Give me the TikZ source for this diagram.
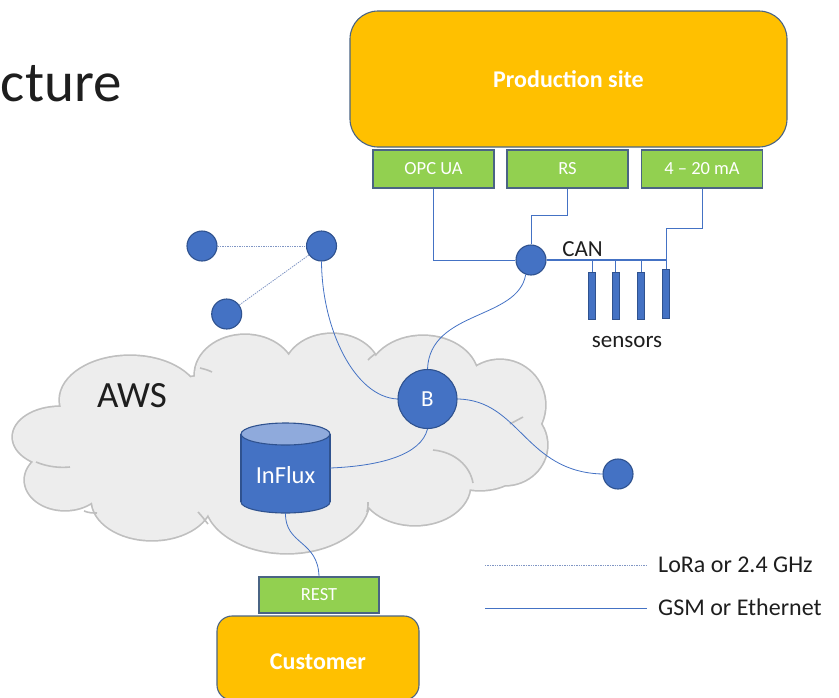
\documentclass[tikz,border=0pt]{standalone}
\usepackage{fontspec}
\setmainfont{Carlito}
\newcommand\fsz[1]{\fontsize{#1}{#1}\selectfont}
\definecolor{myorange}{HTML}{FFC000}
\definecolor{mygreen}{HTML}{92D050}
\definecolor{myblue}{HTML}{4472C4}
\definecolor{darkblue}{HTML}{2F528F}
\definecolor{boxborder}{HTML}{4A6484}
\definecolor{cloudfill}{HTML}{EDEDED}
\definecolor{cloudline}{HTML}{BFBFBF}
\definecolor{radiocol}{HTML}{8096C4}
\definecolor{topblue}{HTML}{8FAADC}
\definecolor{ink}{HTML}{1E1E1E}
\tikzset{
  orangebox/.style={rectangle, fill=myorange, draw=boxborder, line width=1.1pt, text=white, inner sep=0pt},
  greenbox/.style={rectangle, fill=mygreen, draw=boxborder, line width=1.1pt, text=white, inner sep=0pt, minimum width=121pt, minimum height=38pt, font=\fsz{18.5}},
  dotnode/.style={circle, fill=myblue, draw=darkblue, line width=1.1pt, minimum size=30pt, inner sep=0pt},
  sensorbar/.style={rectangle, fill=myblue, draw=darkblue, line width=0.6pt, minimum width=7pt, inner sep=0pt},
  wire/.style={draw=myblue, line width=0.8pt},
  radio/.style={draw=radiocol, line width=0.8pt, dash pattern=on 1.4pt off 1pt},
  lobe/.style={draw=cloudline, line width=3.4pt},
  lobefill/.style={fill=cloudfill},
  innerarc/.style={draw=cloudline, line width=1.6pt},
  plain/.style={text=ink, inner sep=0pt},
}
\begin{document}
\begin{tikzpicture}[x=1pt, y=-1pt]
\useasboundingbox (0,0) rectangle (839,697);
\clip (0,0) rectangle (839,697);

% title fragment
\node[plain, anchor=base west, font=\fsz{57}] (title) at (0.8,101) {cture};

% cloud
\def\cloudlobes{%
  (130,400) ellipse (70pt and 44pt)
  (245,375) ellipse (50pt and 40pt)
  (332,372) ellipse (48pt and 38pt)
  (423,378) ellipse (55pt and 42pt)
  (500,405) ellipse (45pt and 45pt)
  (505,445) ellipse (42pt and 40pt)
  (480,460) ellipse (45pt and 30pt)
  (415,485) ellipse (55pt and 40pt)
  (287,500) ellipse (82pt and 53pt)
  (152,500) ellipse (60pt and 40pt)
  (65,480) ellipse (40pt and 30pt)
  (60,437) ellipse (47pt and 30pt)
  (280,440) ellipse (200pt and 70pt)}
\path[lobe] \cloudlobes;
\path[lobefill] \cloudlobes (108,474) ellipse (14pt and 9pt);
% inner arcs of the cloud
\draw[innerarc] (36,462) .. controls (48,467) and (60,468) .. (70,467);
\draw[innerarc] (84,511) .. controls (89,513) and (93,513) .. (97,513);
\draw[innerarc] (208,524) .. controls (204,519) and (201,515) .. (198,512);
\draw[innerarc] (367,512) .. controls (368,509) and (368,506) .. (368,502);
\draw[innerarc] (433,450) .. controls (455,452) and (470,466) .. (473,483);
\draw[innerarc] (510,424) -- (523,417);
\draw[innerarc] (200,368) .. controls (204,369) and (208,370) .. (212,372);
\draw[innerarc] (375,354) .. controls (372,356) and (370,358) .. (368,360);
\node[plain, anchor=base west, font=\fsz{37}] (aws) at (97,407) {AWS};

% production site
\node[orangebox, rounded corners=28pt, minimum width=437pt, minimum height=136pt, font=\fsz{24}\bfseries] (prod) at (568.5,79) {Production site};
\node[greenbox] (opc) at (433.5,169) {OPC UA};
\node[greenbox] (rs) at (567.5,169) {RS};
\node[greenbox] (ma) at (702,169) {4 – 20 mA};

% hub and sensors
\node[dotnode] (hub) at (531,260) {};
\node[sensorbar, minimum height=47pt] (s1) at (592,295.5) {};
\node[sensorbar, minimum height=47pt] (s2) at (615.5,295.5) {};
\node[sensorbar, minimum height=47pt] (s3) at (641,295.5) {};
\node[sensorbar, minimum height=49pt] (s4) at (666,293.5) {};
\node[plain, anchor=base, font=\fsz{23}] (can) at (582.5,256) {CAN};
\node[plain, anchor=base, font=\fsz{23}] (sens) at (627,347) {sensors};

\draw[wire] (opc.south) |- (hub.west);
\draw[wire] (rs.south) -- (rs.south |- 0,215) -| (hub.north);
\draw[wire] (ma.south) -- (ma.south |- 0,228) -| (s4.north);
\draw[wire, line width=1.8pt] (hub.east) -- (hub.east -| s4.north);
\draw[wire] (s1.north) -- (s1.north |- hub.east);
\draw[wire] (s2.north) -- (s2.north |- hub.east);
\draw[wire] (s3.north) -- (s3.north |- hub.east);

% radio nodes
\node[dotnode] (c1) at (202,246) {};
\node[dotnode] (c2) at (321.5,246) {};
\node[dotnode] (c3) at (226.7,314) {};
\node[dotnode] (c4) at (618,474) {};
\draw[radio] (c1) -- (c2);
\draw[radio] (c3) -- (c2);

% broker
\node[dotnode, minimum size=59pt, text=white, font=\fsz{23}] (B) at (427.5,399) {B};

% InFlux cylinder
\filldraw[fill=myblue, draw=darkblue, line width=1.1pt] (285.5,502) ellipse (44.5pt and 11pt);
\fill[myblue] (241,434) rectangle (330,502);
\draw[darkblue, line width=1.1pt] (241,434) -- (241,502) (330,434) -- (330,502);
\filldraw[fill=topblue, draw=darkblue, line width=1.1pt] (285.5,434) ellipse (44.5pt and 11pt);
\node[minimum width=89pt, minimum height=90pt, inner sep=0pt] (influx) at (285.5,468) {};
\node[anchor=base, text=white, font=\fsz{24.5}, inner sep=0pt] (influxtext) at (285.5,483) {InFlux};

% customer
\node[greenbox, minimum width=120pt, minimum height=36pt] (rest) at (319,595) {REST};
\node[orangebox, rounded corners=15pt, minimum width=202pt, minimum height=84pt, font=\fsz{24}\bfseries, text depth=0pt, text height=22pt] (cust) at (318,658) {Customer};

% connectors
\draw[wire] (c2.south) .. controls (322,330) and (355,397) .. (B.west);
\draw[wire] (hub.250) .. controls (518,320) and (430,310) .. (B.north);
\draw[wire] (B.east) .. controls (520,400) and (525,472) .. (c4.west);
\draw[wire] (B.south) .. controls (421,455) and (380,466) .. (influx.east);
\draw[wire] (influx.south) .. controls (285,545) and (318,540) .. (rest.north);

% legend
\coordinate (la) at (485,565);
\coordinate (lb) at (647,565);
\coordinate (ga) at (485,608);
\coordinate (gb) at (647,608);
\draw[radio] (la) -- (lb);
\draw[wire] (ga) -- (gb);
\node[plain, anchor=base west, font=\fsz{24}] (lora) at (658,572) {LoRa or 2.4 GHz};
\node[plain, anchor=base west, font=\fsz{24}] (gsm) at (658,615) {GSM or Ethernet};
\end{tikzpicture}
\end{document}
